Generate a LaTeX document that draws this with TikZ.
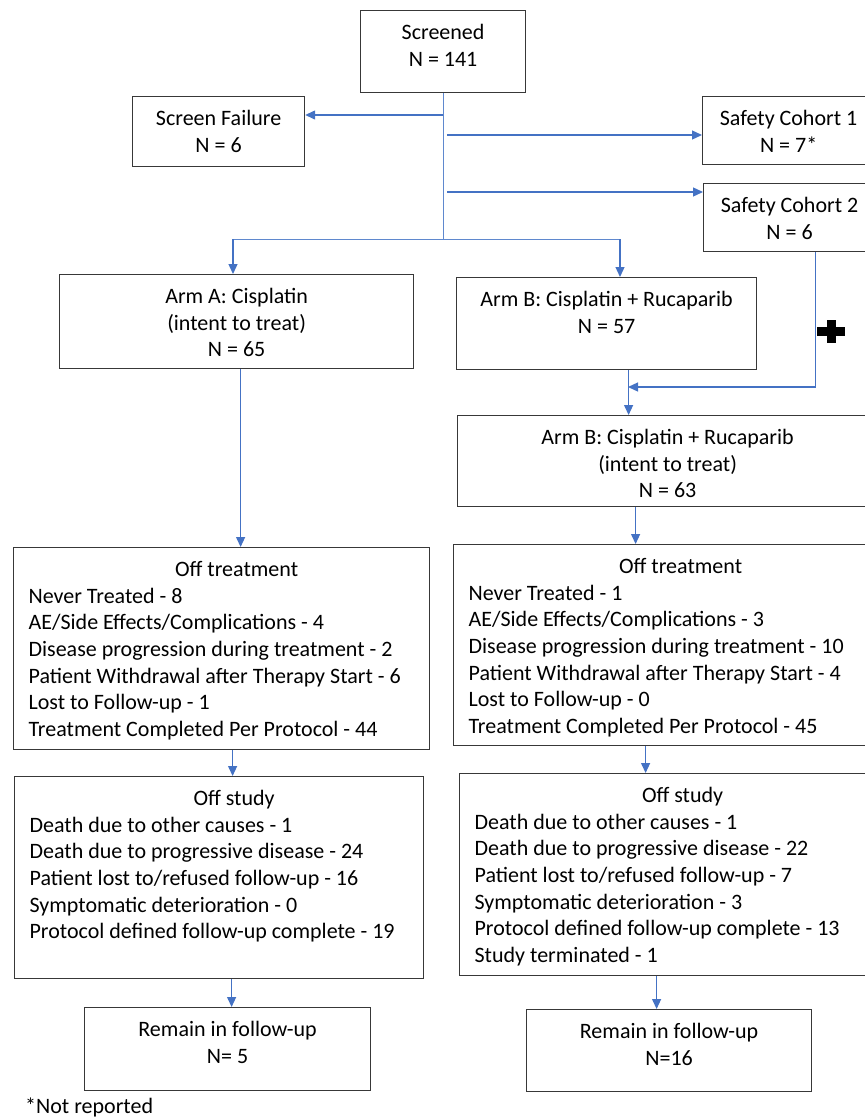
\documentclass[tikz,border=0pt]{standalone}
\usepackage{fontspec}
\setmainfont{Carlito}
\usetikzlibrary{arrows.meta, calc}

\definecolor{arrowblue}{HTML}{4472C4}
\definecolor{treeblue}{HTML}{5F88CE}
\definecolor{boxgray}{HTML}{383838}

\begin{document}
\begin{tikzpicture}[
  x=1pt, y=-1pt,
  box/.style={rectangle, draw=boxgray, line width=1.2pt, inner sep=0pt, anchor=north west},
  txt/.style={font=\fontsize{22}{26.7}\selectfont, text=black, inner sep=0pt, anchor=north, yshift=-14pt},
  ctr/.style={txt, align=center},
  lst/.style={txt, align=flush left},
  arr/.style={-{Triangle[length=10pt, width=9pt]}, draw=arrowblue, line width=1.3pt},
  tree/.style={draw=treeblue, line width=1pt},
]
\path[use as bounding box, clip] (0,0) rectangle (865,1117);

% top of the flow
\node[box, minimum width=165pt, minimum height=82pt, label={[ctr]north:{Screened\\N = 141}}] (screen) at (360,10) {};
\node[box, minimum width=172pt, minimum height=70pt, label={[ctr]north:{Screen Failure\\N = 6}}] (sfail) at (132,96) {};
\node[box, minimum width=172pt, minimum height=68pt, label={[ctr]north:{Safety Cohort 1\\N = 7*}}] (sc1) at (702,96) {};
\node[box, minimum width=172pt, minimum height=68pt, label={[ctr]north:{Safety Cohort 2\\N = 6}}] (sc2) at (703,183) {};

% arms
\node[box, minimum width=354pt, minimum height=94pt, label={[ctr]north:{Arm A: Cisplatin\\(intent to treat)\\N = 65}}] (armA) at (59,274) {};
\node[box, minimum width=300pt, minimum height=92pt, label={[ctr]north:{Arm B: Cisplatin + Rucaparib\\N = 57}}] (armB) at (456,277) {};
\node[box, minimum width=420pt, minimum height=91pt, label={[ctr]north:{Arm B: Cisplatin + Rucaparib\\(intent to treat)\\N = 63}}] (itt) at (457,415) {};

% off treatment
\node[box, minimum width=416pt, minimum height=202pt, label={[lst, text width=386pt]north:{\makebox[\linewidth]{\hspace{30pt}Off treatment}\\Never Treated - 8\\AE/Side Effects/Complications - 4\\Disease progression during treatment - 2\\Patient Withdrawal after Therapy Start - 6\\Lost to Follow-up - 1\\Treatment Completed Per Protocol - 44}}] (offtA) at (13,547) {};
\node[box, minimum width=424pt, minimum height=201pt, label={[lst, text width=394pt]north:{\makebox[\linewidth]{\hspace{30pt}Off treatment}\\Never Treated - 1\\AE/Side Effects/Complications - 3\\Disease progression during treatment - 10\\Patient Withdrawal after Therapy Start - 4\\Lost to Follow-up - 0\\Treatment Completed Per Protocol - 45}}] (offtB) at (453,544) {};

% off study
\node[box, minimum width=409pt, minimum height=202pt, label={[lst, text width=379pt]north:{\makebox[\linewidth]{\hspace{30pt}Off study}\\Death due to other causes - 1\\Death due to progressive disease - 24\\Patient lost to/refused follow-up - 16\\Symptomatic deterioration - 0\\Protocol defined follow-up complete - 19}}] (offsA) at (14,776) {};
\node[box, minimum width=416pt, minimum height=202pt, label={[lst, text width=386pt]north:{\makebox[\linewidth]{\hspace{30pt}Off study}\\Death due to other causes - 1\\Death due to progressive disease - 22\\Patient lost to/refused follow-up - 7\\Symptomatic deterioration - 3\\Protocol defined follow-up complete - 13\\Study terminated - 1}}] (offsB) at (459,773) {};

% remaining
\node[box, minimum width=286pt, minimum height=83pt, label={[ctr]north:{Remain in follow-up\\N= 5}}] (remA) at (84,1007) {};
\node[box, minimum width=285pt, minimum height=82pt, label={[ctr]north:{Remain in follow-up\\N=16}}] (remB) at (526,1009) {};

\node[font=\fontsize{22}{26.7}\selectfont, inner sep=0pt, anchor=base west] (note) at (25,1113) {*Not reported};

% connectors
\coordinate (jfail) at (443,115);
\coordinate (jsc1) at (447,135);
\coordinate (jsc2) at (447,192);
\coordinate (splitL) at (233,239);
\coordinate (splitR) at (620,239);
\coordinate (merge) at (628,387);

\draw[tree] (screen.south) -- (screen.south |- splitL);
\draw[tree] (splitL) -- (splitR);
\draw[arr] (jfail) -- (jfail -| sfail.east);
\draw[arr] (jsc1) -- (jsc1 -| sc1.west);
\draw[arr] (jsc2) -- (jsc2 -| sc2.west);
\draw[arr] (splitL) -- (splitL |- armA.north);
\draw[arr] (splitR) -- (splitR |- armB.north);

\draw[arr] ([xshift=26pt]sc2.south) |- (merge);
\draw[arr] ([xshift=22pt]armB.south) -- ([xshift=22pt]armB.south |- itt.north);
\fill[black] (817,327) rectangle (845,336);
\fill[black] (826.5,320) rectangle (835.5,343);

\draw[arr] ([xshift=4pt]armA.south) -- ([xshift=4pt]armA.south |- offtA.north);
\draw[arr] ([xshift=-32pt]itt.south) -- ([xshift=-32pt]itt.south |- offtB.north);
\draw[arr] ([xshift=11pt]offtA.south) -- ([xshift=11pt]offtA.south |- offsA.north);
\draw[arr] ([xshift=-20pt]offtB.south) -- ([xshift=-20pt]offtB.south |- offsB.north);
\draw[arr] ([xshift=12.5pt]offsA.south) -- ([xshift=12.5pt]offsA.south |- remA.north);
\draw[arr] ([xshift=-11pt]offsB.south) -- ([xshift=-11pt]offsB.south |- remB.north);
\end{tikzpicture}
\end{document}
